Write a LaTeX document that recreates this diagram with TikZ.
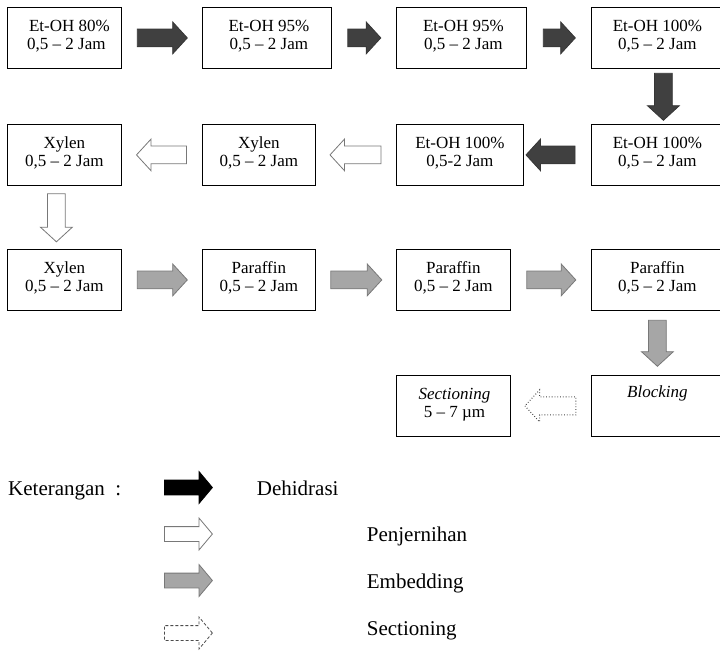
\documentclass[tikz,border=0pt]{standalone}
\usepackage{fontspec}
\setmainfont{Liberation Serif}
\usetikzlibrary{shapes.arrows,calc}
\definecolor{darkar}{RGB}{64,64,64}
\definecolor{grayar}{RGB}{166,166,166}
\definecolor{edgear}{RGB}{120,120,120}
\begin{document}
\begin{tikzpicture}[x=1pt,y=-1pt,
  box/.style={draw=black,line width=0.8pt,inner sep=0,anchor=north west,minimum height=61pt},
  boxtext/.style={anchor=north,inner sep=0,align=center,font=\fontsize{17}{18}\selectfont},
  barrow/.style={single arrow,anchor=tail,inner xsep=0pt,inner ysep=8.5pt,single arrow head extend=7pt,single arrow tip angle=95,line width=0.8pt},
  dehid/.style={barrow,fill=darkar,draw=darkar!85!black},
  clear/.style={barrow,fill=white,draw=edgear},
  embed/.style={barrow,fill=grayar,draw=edgear},
  sect/.style={barrow,fill=white,draw=black!75,dotted,line width=1pt},
  legarrow/.style={single arrow,anchor=tail,inner xsep=0pt,inner ysep=7pt,minimum height=48pt,single arrow head extend=8.5pt,single arrow tip angle=100,line width=0.8pt},
  legtext/.style={anchor=base west,inner sep=0,font=\fontsize{21}{24}\selectfont}]
\useasboundingbox (0,0) rectangle (720,651);

% boxes
\node[box,minimum width=114pt] (b1) at (7,7) {};
\node[box,minimum width=129pt] (b2) at (202,7) {};
\node[box,minimum width=130pt] (b3) at (396,7) {};
\node[box,minimum width=132pt] (b4) at (591,7) {};
\node[box,minimum width=114pt] (b5) at (7,124) {};
\node[box,minimum width=113pt] (b6) at (202,124) {};
\node[box,minimum width=127pt] (b7) at (396,124) {};
\node[box,minimum width=132pt] (b8) at (591,124) {};
\node[box,minimum width=114pt] (b9) at (7,249) {};
\node[box,minimum width=113pt] (b10) at (202,249) {};
\node[box,minimum width=114pt] (b11) at (396,249) {};
\node[box,minimum width=132pt] (b12) at (591,249) {};
\node[box,minimum width=114pt] (b13) at (396,375) {};
\node[box,minimum width=132pt] (b14) at (591,375) {};

% box texts
\node[boxtext] (t1) at ([xshift=2pt,yshift=-11.4pt]b1.north) {\strut \hspace{6pt}Et-OH 80\%\\\strut 0,5 – 2 Jam};
\node[boxtext] (t2) at ([xshift=2pt,yshift=-11.4pt]b2.north) {\strut Et-OH 95\%\\\strut 0,5 – 2 Jam};
\node[boxtext] (t3) at ([xshift=2pt,yshift=-11.4pt]b3.north) {\strut Et-OH 95\%\\\strut 0,5 – 2 Jam};
\node[boxtext] (t4) at ([yshift=-11.4pt]b4.north) {\strut Et-OH 100\%\\\strut 0,5 – 2 Jam};
\node[boxtext] (t5) at ([yshift=-11.4pt]b5.north) {\strut Xylen\\\strut 0,5 – 2 Jam};
\node[boxtext] (t6) at ([yshift=-11.4pt]b6.north) {\strut Xylen\\\strut 0,5 – 2 Jam};
\node[boxtext] (t7) at ([yshift=-11.4pt]b7.north) {\strut Et-OH 100\%\\\strut 0,5-2 Jam};
\node[boxtext] (t8) at ([yshift=-11.4pt]b8.north) {\strut Et-OH 100\%\\\strut 0,5 – 2 Jam};
\node[boxtext] (t9) at ([yshift=-11.4pt]b9.north) {\strut Xylen\\\strut 0,5 – 2 Jam};
\node[boxtext] (t10) at ([yshift=-11.4pt]b10.north) {\strut Paraffin\\\strut 0,5 – 2 Jam};
\node[boxtext] (t11) at ([yshift=-11.4pt]b11.north) {\strut Paraffin\\\strut 0,5 – 2 Jam};
\node[boxtext] (t12) at ([yshift=-11.4pt]b12.north) {\strut Paraffin\\\strut 0,5 – 2 Jam};
\node[boxtext] (t13) at ([xshift=1pt,yshift=-11.4pt]b13.north) {\strut\textit{Sectioning}\\\strut 5 – 7 µm};
\node[boxtext] (t14) at ([yshift=-9.4pt]b14.north) {\strut\textit{Blocking}};

% block arrows (placed by their tail)
\node[dehid,minimum height=50pt] (a1) at ([xshift=-25pt]$(b1.east)!0.5!(b2.west)$) {};
\node[dehid,minimum height=33pt] (a2) at ([xshift=-16.5pt]$(b2.east)!0.5!(b3.west)$) {};
\node[dehid,minimum height=32pt] (a3) at ([xshift=-16pt]$(b3.east)!0.5!(b4.west)$) {};
\node[dehid,minimum height=47pt,rotate=-90] (a4) at ([xshift=6pt,yshift=23.5pt]$(b4.south)!0.5!(b8.north)$) {};
\node[dehid,minimum height=49pt,rotate=180] (a5) at ([xshift=18pt]$(b7.east)!0.5!(b8.west)$) {};
\node[clear,minimum height=51pt,rotate=180] (a6) at ([xshift=25.5pt]$(b6.east)!0.5!(b7.west)$) {};
\node[clear,minimum height=50pt,rotate=180] (a7) at ([xshift=25pt]$(b5.east)!0.5!(b6.west)$) {};
\node[clear,minimum height=48pt,rotate=-90] (a8) at ([xshift=-8pt,yshift=24pt]$(b5.south)!0.5!(b9.north)$) {};
\node[embed,minimum height=50pt] (a9) at ([xshift=-25pt]$(b9.east)!0.5!(b10.west)$) {};
\node[embed,minimum height=51pt] (a10) at ([xshift=-25.5pt]$(b10.east)!0.5!(b11.west)$) {};
\node[embed,minimum height=49pt] (a11) at ([xshift=-24.5pt]$(b11.east)!0.5!(b12.west)$) {};
\node[embed,minimum height=46pt,rotate=-90] (a12) at ([yshift=23pt]$(b12.south)!0.5!(b14.north)$) {};
\node[sect,minimum height=51pt,rotate=180] (a13) at ([xshift=25.5pt]$(b13.east)!0.5!(b14.west)$) {};

% legend
\node[legtext] (k) at (8,495) {Keterangan\ \ :};
\node[legarrow,fill=black,draw=black] (l1) at (164,487.5) {};
\node[legarrow,fill=white,draw=edgear] (l2) at (164,534) {};
\node[legarrow,fill=grayar,draw=edgear] (l3) at (164,580.5) {};
\node[legarrow,fill=white,draw=black!70,dash pattern=on 3pt off 2pt] (l4) at (164,633) {};
\node[legtext] (d1) at (256.7,495) {Dehidrasi};
\node[legtext] (d2) at (366.7,541.5) {Penjernihan};
\node[legtext] (d3) at (366.7,588) {Embedding};
\node[legtext] (d4) at (366.7,635.5) {Sectioning};
\end{tikzpicture}
\end{document}
